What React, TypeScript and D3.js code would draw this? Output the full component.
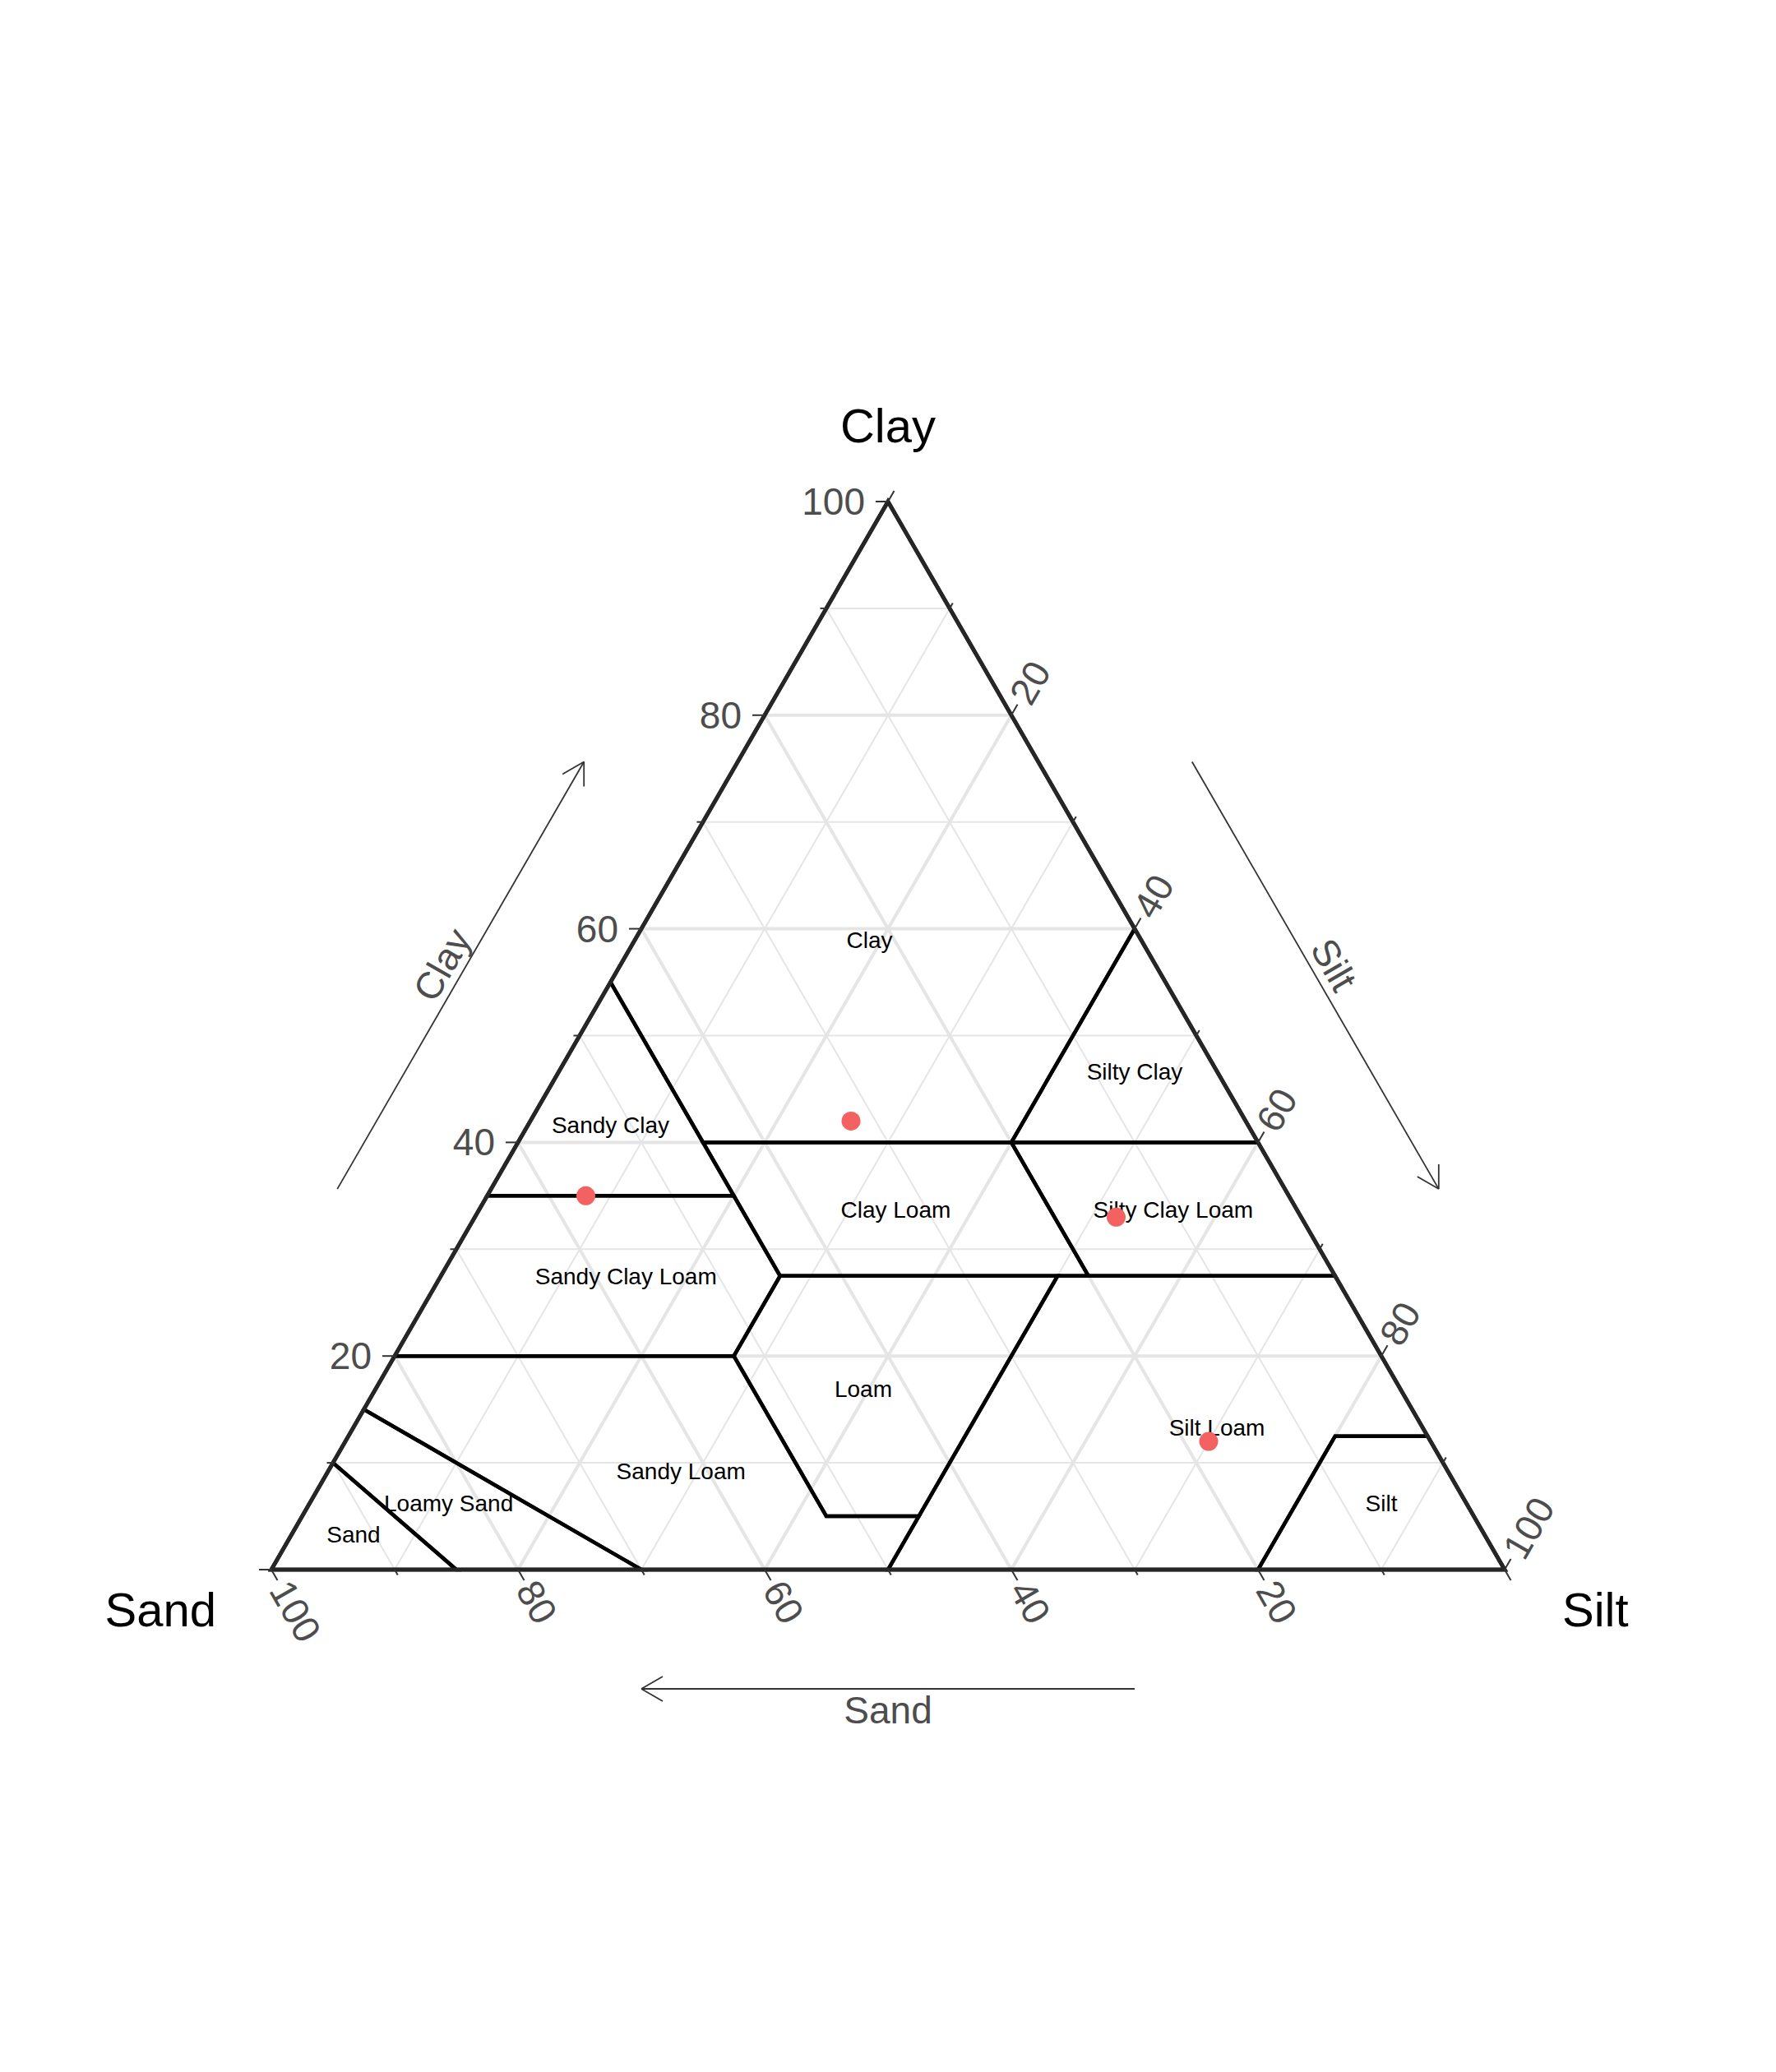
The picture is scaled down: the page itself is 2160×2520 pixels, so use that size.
import React, { useEffect, useRef } from 'react';
import * as d3 from 'd3';

// soil texture zones, vertices as [sand, silt, clay]
const zoneNames = [
  'Clay', 'Silty Clay', 'Sandy Clay', 'Clay Loam', 'Silty Clay Loam', 'Sandy Clay Loam',
  'Loam', 'Silt Loam', 'Sandy Loam', 'Silt', 'Loamy Sand', 'Sand',
];
const zoneVertices: number[][][] = [
  [[0, 0, 100], [0, 40, 60], [20, 40, 40], [45, 15, 40], [45, 0, 55]],
  [[0, 40, 60], [0, 60, 40], [20, 40, 40]],
  [[45, 0, 55], [65, 0, 35], [45, 20, 35]],
  [[45, 15, 40], [20, 40, 40], [20, 52.5, 27.5], [45, 27.5, 27.5]],
  [[20, 40, 40], [0, 60, 40], [0, 72.5, 27.5], [20, 52.5, 27.5]],
  [[65, 0, 35], [80, 0, 20], [52.5, 27.5, 20], [45, 27.5, 27.5], [45, 20, 35]],
  [[45, 27.5, 27.5], [22.5, 50, 27.5], [45, 50, 5], [52.5, 42.5, 5], [52.5, 27.5, 20]],
  [[22.5, 50, 27.5], [0, 72.5, 27.5], [0, 87.5, 12.5], [7.5, 80, 12.5], [20, 80, 0], [50, 50, 0]],
  [[80, 0, 20], [85, 0, 15], [70, 30, 0], [50, 50, 0], [45, 50, 5], [52.5, 42.5, 5], [52.5, 27.5, 20]],
  [[0, 87.5, 12.5], [0, 100, 0], [20, 80, 0], [7.5, 80, 12.5]],
  [[85, 0, 15], [90, 0, 10], [85, 15, 0], [70, 30, 0]],
  [[90, 0, 10], [100, 0, 0], [85, 15, 0]],
];

// sample points
const sampleSand = [32, 57, 15, 18];
const sampleSilt = [26, 8, 52, 70];
const sampleClay = [42, 35, 33, 12];

// axis ticks
const tickValues = [0, 10, 20, 30, 40, 50, 60, 70, 80, 90, 100];
const labelValues = [20, 40, 60, 80, 100];
const gridMajor = [20, 40, 60, 80];
const gridMinor = [10, 30, 50, 70, 90];

const FONT = '"Liberation Sans", Arial, Helvetica, sans-serif';

const App = () => {
  const svgRef = useRef<SVGSVGElement>(null);

  useEffect(() => {
    const width = 2160;
    const height = 2520;
    const svg = d3.select(svgRef.current);
    svg.selectAll('*').remove();
    svg.attr('width', width).attr('height', height);

    svg.append('rect').attr('width', width).attr('height', height).attr('fill', '#fff');

    const x = d3.scaleLinear().domain([0, 100]).range([330, 1830]);
    const y = d3.scaleLinear().domain([0, 100]).range([1909, 610]);

    const pt = (sand: number, silt: number, clay: number): [number, number] => {
      const t = sand + silt + clay;
      const si = (silt * 100) / t;
      const cl = (clay * 100) / t;
      return [x(si + cl / 2), y(cl)];
    };

    const line = d3.line();
    const g = svg.append('g');

    // grid
    const gridLines = (vals: number[], w: number) => {
      vals.forEach((v) => {
        const segs = [
          [pt(100 - v, 0, v), pt(0, 100 - v, v)], // clay
          [pt(v, 100 - v, 0), pt(v, 0, 100 - v)], // sand
          [pt(100 - v, v, 0), pt(0, v, 100 - v)], // silt
        ];
        segs.forEach((s) => {
          g.append('path')
            .attr('d', line(s as [number, number][]))
            .attr('stroke', '#e5e5e5')
            .attr('stroke-width', w)
            .attr('fill', 'none');
        });
      });
    };
    gridLines(gridMinor, 2);
    gridLines(gridMajor, 4);

    // zones
    zoneVertices.forEach((verts) => {
      g.append('path')
        .attr('d', line(verts.map((v) => pt(v[0], v[1], v[2]))) + 'Z')
        .attr('fill', 'none')
        .attr('stroke', '#000')
        .attr('stroke-width', 4.5)
        .attr('stroke-linejoin', 'miter');
    });

    // border
    g.append('path')
      .attr('d', line([pt(100, 0, 0), pt(0, 100, 0), pt(0, 0, 100)]) + 'Z')
      .attr('fill', 'none')
      .attr('stroke', '#262626')
      .attr('stroke-width', 5);

    // ticks and labels
    const c60 = Math.cos(Math.PI / 3);
    const s60 = Math.sin(Math.PI / 3);
    const axes = [
      { at: (v: number) => pt(100 - v, 0, v), dir: [-1, 0], rot: 0, anchor: 'end', off: 28 },
      { at: (v: number) => pt(v, 100 - v, 0), dir: [c60, s60], rot: 60, anchor: 'start', off: 20 },
      { at: (v: number) => pt(0, v, 100 - v), dir: [c60, -s60], rot: -60, anchor: 'start', off: 20 },
    ];
    axes.forEach((a) => {
      tickValues.forEach((v) => {
        const [px, py] = a.at(v);
        const len = v % 20 === 0 ? 15 : 7.5;
        g.append('line')
          .attr('x1', px).attr('y1', py)
          .attr('x2', px + a.dir[0] * len).attr('y2', py + a.dir[1] * len)
          .attr('stroke', '#333').attr('stroke-width', 2);
      });
      labelValues.forEach((v) => {
        const [px, py] = a.at(v);
        const lx = px + a.dir[0] * a.off;
        const ly = py + a.dir[1] * a.off;
        g.append('text')
          .attr('transform', `translate(${lx},${ly}) rotate(${a.rot})`)
          .attr('text-anchor', a.anchor)
          .attr('dominant-baseline', 'central')
          .attr('font-family', FONT)
          .attr('font-size', 46)
          .attr('fill', '#4d4d4d')
          .text(String(v));
      });
    });

    // zone labels at vertex mean
    zoneVertices.forEach((verts, i) => {
      const m = [0, 1, 2].map((k) => d3.mean(verts, (v) => v[k]) as number);
      const [lx, ly] = pt(m[0], m[1], m[2]);
      g.append('text')
        .attr('x', lx).attr('y', ly + 1)
        .attr('text-anchor', 'middle')
        .attr('dominant-baseline', 'central')
        .attr('font-family', FONT)
        .attr('font-size', 28)
        .attr('fill', '#000')
        .text(zoneNames[i]);
    });

    // samples
    sampleSand.forEach((s, i) => {
      const [px, py] = pt(s, sampleSilt[i], sampleClay[i]);
      g.append('circle')
        .attr('cx', px).attr('cy', py).attr('r', 11.5)
        .attr('fill', '#f36161');
    });

    // arrows
    const arrow = (from: [number, number], to: [number, number], label: string, normal: [number, number], rot: number) => {
      g.append('line')
        .attr('x1', from[0]).attr('y1', from[1]).attr('x2', to[0]).attr('y2', to[1])
        .attr('stroke', '#333').attr('stroke-width', 1.8);
      const ang = Math.atan2(from[1] - to[1], from[0] - to[0]);
      const hl = 30;
      [-Math.PI / 6, Math.PI / 6].forEach((d) => {
        g.append('line')
          .attr('x1', to[0]).attr('y1', to[1])
          .attr('x2', to[0] + hl * Math.cos(ang + d)).attr('y2', to[1] + hl * Math.sin(ang + d))
          .attr('stroke', '#333').attr('stroke-width', 1.8);
      });
      const mx = (from[0] + to[0]) / 2 + normal[0] * 26;
      const my = (from[1] + to[1]) / 2 + normal[1] * 26;
      g.append('text')
        .attr('transform', `translate(${mx},${my}) rotate(${rot})`)
        .attr('text-anchor', 'middle')
        .attr('dominant-baseline', 'central')
        .attr('font-family', FONT)
        .attr('font-size', 46)
        .attr('fill', '#4d4d4d')
        .text(label);
    };
    const shift = (p: [number, number], n: [number, number], d: number): [number, number] => [p[0] + n[0] * d, p[1] + n[1] * d];

    const nLeft: [number, number] = [-s60, -c60];
    const nRight: [number, number] = [s60, -c60];
    const nBottom: [number, number] = [0, 1];
    arrow(shift(pt(70.6, 0, 29.4), nLeft, 162), shift(pt(30.6, 0, 69.4), nLeft, 162), 'Clay', nLeft, -60);
    arrow(shift(pt(0, 30.6, 69.4), nRight, 162), shift(pt(0, 70.6, 29.4), nRight, 162), 'Silt', nRight, 60);
    arrow(shift(pt(30, 70, 0), nBottom, 145), shift(pt(70, 30, 0), nBottom, 145), 'Sand', nBottom, 0);

    // vertex titles
    const [tx, ty] = pt(0, 0, 100);
    g.append('text')
      .attr('x', tx).attr('y', ty - 72)
      .attr('text-anchor', 'middle')
      .attr('font-family', FONT).attr('font-size', 58).attr('fill', '#000')
      .text('Clay');
    const [bx, by] = pt(100, 0, 0);
    g.append('text')
      .attr('x', bx - 67).attr('y', by + 69)
      .attr('text-anchor', 'end')
      .attr('font-family', FONT).attr('font-size', 58).attr('fill', '#000')
      .text('Sand');
    const [rx, ry] = pt(0, 100, 0);
    g.append('text')
      .attr('x', rx + 70).attr('y', ry + 69)
      .attr('text-anchor', 'start')
      .attr('font-family', FONT).attr('font-size', 58).attr('fill', '#000')
      .text('Silt');
  }, []);

  return (
    <svg ref={svgRef} style={{ position: 'absolute', left: 0, top: 0, display: 'block' }}></svg>
  );
};

export default App;
